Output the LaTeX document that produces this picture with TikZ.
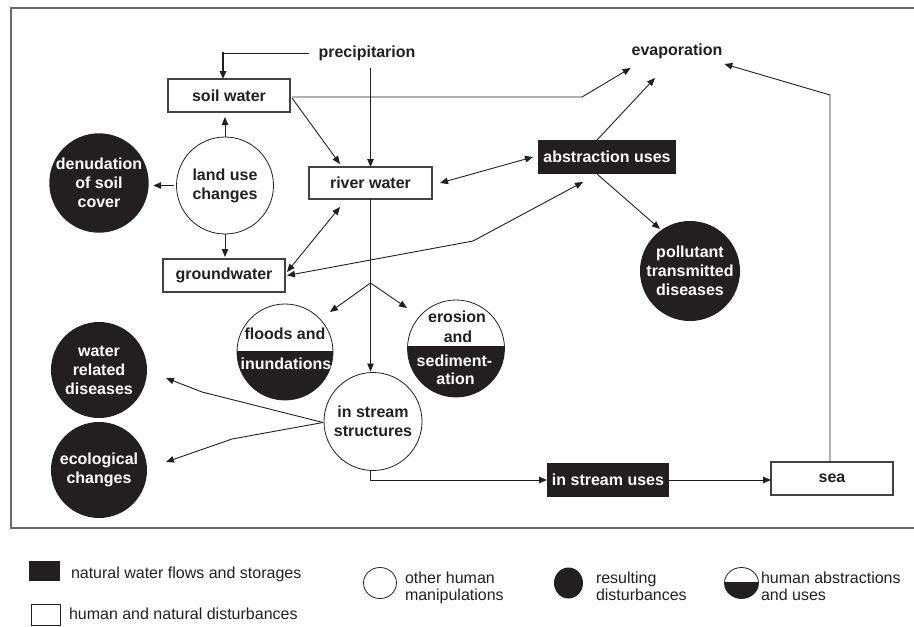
\documentclass[tikz,border=0pt]{standalone}
\usepackage{fontspec}
\setmainfont{Liberation Sans}
\usetikzlibrary{arrows.meta,calc,shapes.geometric}
\definecolor{ink}{RGB}{35,31,32}
\definecolor{framec}{RGB}{105,105,105}
\begin{document}
\begin{tikzpicture}[x=1pt,y=-1pt,
  every node/.style={inner sep=0pt,outer sep=0pt},
  lab/.style={font=\fontsize{16}{19}\selectfont\bfseries, text=ink},
  wbox/.style={lab, draw=ink!85, line width=1.1pt, fill=white, minimum width=122pt, minimum height=33pt},
  bbox/.style={lab, fill=ink, text=white, minimum width=122pt, minimum height=34pt},
  wcirc/.style={lab, circle, draw=ink, line width=0.8pt, minimum size=97pt, align=center},
  bcirc/.style={lab, circle, fill=ink, text=white, minimum size=97pt, align=center},
  hcirc/.style={circle, draw=ink, line width=0.8pt, minimum size=#1},
  conn/.style={draw=ink, line width=0.9pt, -{Triangle[length=8pt,width=6.5pt]}},
  dconn/.style={draw=ink, line width=0.9pt, {Triangle[length=8pt,width=6.5pt]}-{Triangle[length=8pt,width=6.5pt]}},
  leg/.style={font=\fontsize{16}{17}\selectfont, text=ink, anchor=base west}
]
\useasboundingbox (0,0) rectangle (914,627);
% frame
\draw[framec, line width=1.5pt] (915,8) -- (11,8) -- (11,528) -- (915,528);

% nodes
\node[lab] (precip) at (367,53) {precipitarion};
\node[lab] (evap) at (677,51) {evaporation};
\node[wbox] (soil) at (229,95.5) {soil water};
\node[wbox, minimum width=123pt, minimum height=32pt] (river) at (370.5,183) {river water};
\node[wbox] (ground) at (224,275.5) {groundwater};
\node[bbox, minimum width=138pt] (abstr) at (607,157) {abstraction uses};
\node[bbox] (isuses) at (608,480) {in stream uses};
\node[wbox] (sea) at (832,478.5) {sea};
\node[wcirc] (land) at (225,185.5) {land use\\changes};
\node[bcirc, minimum size=99pt] (denud) at (99,183) {denudation\\of soil\\cover};
\node[bcirc] (pollut) at (690,271) {pollutant\\transmitted\\diseases};
\node[bcirc, minimum size=96pt] (waterrel) at (99,370) {water\\related\\diseases};
\node[bcirc, minimum size=96pt] (eco) at (99,470) {ecological\\changes};
\node[wcirc, minimum size=98pt] (instruct) at (373,421.5) {in stream\\structures};

\node[hcirc=96pt, path picture={\fill[ink] ([yshift=1pt]path picture bounding box.west) rectangle (path picture bounding box.south east);}] (floods) at (285,352) {};
\node[lab, anchor=base] (floodsA) at (285,339) {floods and};
\node[lab, anchor=base, text=white] (floodsB) at (286,369) {inundations};

\node[hcirc=97pt, path picture={\fill[ink] ([yshift=2.5pt]path picture bounding box.west) rectangle (path picture bounding box.south east);}] (erosion) at (456,348.5) {};
\node[lab, anchor=base] (erosionA) at (457,322) {erosion};
\node[lab, anchor=base] (erosionB) at (458,342) {and};
\node[lab, anchor=base, text=white] (erosionC) at (454.5,366) {sediment-};
\node[lab, anchor=base, text=white] (erosionD) at (455.5,384) {ation};

% connectors
\coordinate (pc) at (223,53);
\draw[ink, line width=0.9pt] ([xshift=-10pt]precip.west) -- (pc);
\draw[conn, line width=1.8pt] ([yshift=0.9pt]pc) -- (pc |- soil.north);
\draw[conn, shorten <=8pt] (precip.south -| river.north) -- (river.north);
\draw[conn] ($(soil.east)+(2,2.5)$) -- ($(river.north west)+(31,-3)$);
\coordinate (e1) at (582,97);
\draw[conn] ($(soil.east)+(2,1.5)$) -- (e1) -- ($(evap.west)+(-1,17)$);
\draw[conn] ($(abstr.north)+(-10,0)$) -- ($(evap.south)+(-22,19.5)$);
\coordinate (s1) at (830,95);
\draw[conn] ($(sea.north)+(-2,0)$) -- (s1) -- ($(evap.east)+(2,13)$);
\draw[conn] ($(abstr.south)+(-10,0)$) -- ($(pollut.center)+(-30,-42)$);
\draw[dconn] ($(river.east)+(8,0)$) -- ($(abstr.west)+(-5,0)$);
\coordinate (g1) at (473,241);
\draw[dconn] ($(ground.east)+(2,0)$) -- (g1) -- ($(abstr.south west)+(45,8)$);
\draw[dconn] ($(ground.east)+(2,-3.5)$) -- ($(river.south west)+(31,8)$);
\draw[conn, shorten >=5pt] (land.north) -- (land.north |- soil.south);
\draw[conn, shorten <=2.5pt, shorten >=4.5pt] (land.west) -- (land.west -| denud.east);
\draw[conn, shorten >=2pt] (land.south) -- (land.south |- ground.north);
\draw[conn, shorten >=1pt] (river.south) -- (river.south |- instruct.north);
\coordinate (br) at ($(river.south)+(0,84)$);
\draw[conn] (br) -- ($(floods.center)+(45,-40)$);
\draw[conn] (br) -- ($(erosion.center)+(-49,-40.5)$);
\coordinate (w1) at (202,392);
\draw[conn] ($(instruct.west)+(-1,1)$) -- (w1) -- ($(waterrel.east)+(19,8)$);
\coordinate (w2) at (232,439);
\draw[conn] ($(instruct.west)+(-1,1)$) -- (w2) -- ($(eco.east)+(19,-8)$);
\draw[conn] ($(instruct.south)+(-3,0)$) |- (isuses.west);
\draw[conn] (isuses.east) -- (isuses.east -| sea.west);

% legend
\node[fill=ink, minimum width=31pt, minimum height=20pt, anchor=north west] (lg1) at (29,561) {};
\node[leg] (lt1) at (71,578) {natural water flows and storages};
\node[draw=ink, line width=0.8pt, minimum width=29pt, minimum height=21pt, anchor=north west] (lg2) at (31,604) {};
\node[leg] (lt2) at (69,619) {human and natural disturbances};
\node[ellipse, draw=ink, line width=0.8pt, minimum width=33pt, minimum height=31pt] (lg3) at (380,583) {};
\node[leg] (lt3a) at (405,583) {other human};
\node[leg] (lt3b) at (405,600) {manipulations};
\node[ellipse, fill=ink, minimum width=29pt, minimum height=31pt] (lg4) at (568.5,583) {};
\node[leg] (lt4a) at (596,583) {resulting};
\node[leg] (lt4b) at (596,600) {disturbances};
\node[ellipse, draw=ink, line width=0.8pt, minimum width=34pt, minimum height=31pt, path picture={\fill[ink] ([yshift=1pt]path picture bounding box.west) rectangle (path picture bounding box.south east);}] (lg5) at (741.5,583) {};
\node[leg] (lt5a) at (761,583) {human abstractions};
\node[leg] (lt5b) at (761,600) {and uses};
\end{tikzpicture}
\end{document}
